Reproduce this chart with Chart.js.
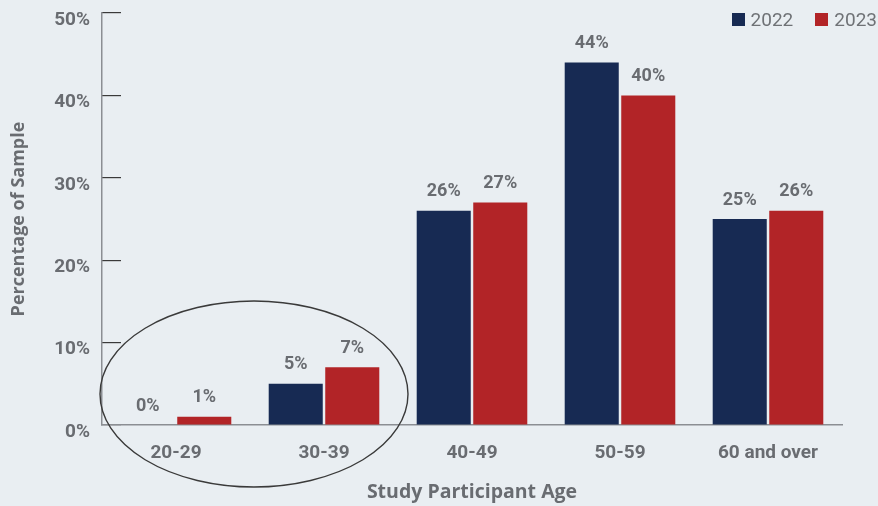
<!DOCTYPE html>
<html>
<head>
<meta charset="utf-8">
<script src="https://cdn.jsdelivr.net/npm/chart.js@4.4.1/dist/chart.umd.min.js"></script>
<style>
  html, body { margin: 0; padding: 0; background: #e9eef2; }
  #wrap { position: relative; width: 878px; height: 506px; }
  #legend {
    position: absolute; top: 8px; right: 1px;
    display: flex; gap: 22px;
    font: 19px Roboto, sans-serif; color: #6f7276;
  }
  #legend span.item { display: flex; align-items: center; }
  #legend span.box { width: 13px; height: 13px; margin-right: 6px; display: inline-block; }
</style>
</head>
<body>
<div id="wrap">
  <canvas id="chart"></canvas>
  <div id="legend"></div>
</div>
<script>
const categories = ['20-29', '30-39', '40-49', '50-59', '60 and over'];
const values2022 = [0, 5, 26, 44, 25];
const values2023 = [1, 7, 27, 40, 26];
const seriesNames = ['2022', '2023'];
const yTicks = [0, 10, 20, 30, 40, 50];

const GRAY = '#696c71';

// value labels above each bar
const barLabels = {
  id: 'barLabels',
  afterDatasetsDraw(chart) {
    const ctx = chart.ctx;
    ctx.save();
    ctx.font = 'bold 18px "Roboto"';
    ctx.fillStyle = GRAY;
    ctx.textAlign = 'center';
    ctx.textBaseline = 'bottom';
    chart.data.datasets.forEach((ds, i) => {
      chart.getDatasetMeta(i).data.forEach((bar, j) => {
        ctx.fillText(ds.data[j] + '%', bar.x, bar.y - 10);
      });
    });
    ctx.restore();
  }
};

// hand-drawn style ellipse round the two youngest groups
const circleNote = {
  id: 'circleNote',
  afterDraw(chart) {
    const x = chart.scales.x, y = chart.scales.y;
    const cx = (x.getPixelForValue(0) + x.getPixelForValue(1)) / 2 + 4;
    const cy = y.getPixelForValue(0) - 31;
    const ctx = chart.ctx;
    ctx.save();
    ctx.strokeStyle = '#3a3a3a';
    ctx.lineWidth = 1.4;
    ctx.beginPath();
    ctx.ellipse(cx, cy, 154, 93, 0, 0, Math.PI * 2);
    ctx.stroke();
    ctx.restore();
  }
};

// html legend in the top right corner, built from the datasets
const htmlLegend = {
  id: 'htmlLegend',
  afterUpdate(chart) {
    const box = document.getElementById('legend');
    box.innerHTML = '';
    chart.data.datasets.forEach(ds => {
      const item = document.createElement('span');
      item.className = 'item';
      const sw = document.createElement('span');
      sw.className = 'box';
      sw.style.background = ds.backgroundColor;
      item.appendChild(sw);
      item.appendChild(document.createTextNode(ds.label));
      box.appendChild(item);
    });
  }
};

new Chart(document.getElementById('chart'), {
  type: 'bar',
  data: {
    labels: categories,
    datasets: [
      { label: seriesNames[0], data: values2022, backgroundColor: '#172a53' },
      { label: seriesNames[1], data: values2023, backgroundColor: '#b22427' }
    ]
  },
  options: {
    responsive: true,
    maintainAspectRatio: false,
    animation: false,
    categoryPercentage: 0.764,
    barPercentage: 0.956,
    layout: { padding: { top: 13, right: 36, left: 0, bottom: 0 } },
    plugins: {
      tooltip: { enabled: false },
      legend: { display: false }
    },
    scales: {
      x: {
        afterFit(scale) { scale.height = 81; },
        border: { display: true, color: '#8b8e93', width: 1.5 },
        grid: { display: false, drawTicks: false },
        ticks: {
          color: GRAY,
          padding: 17,
          font: { family: 'Roboto', weight: 'bold', size: 19 }
        },
        title: {
          display: true,
          text: 'Study Participant Age',
          color: GRAY,
          padding: { top: 0, bottom: 2 },
          font: { family: 'Open Sans', weight: 'bold', size: 19.5 }
        }
      },
      y: {
        min: 0,
        max: 50,
        afterFit(scale) {
          scale.width = 102;
          // the big tick padding should not push the plot down
          scale.paddingTop = 0;
          scale.paddingBottom = 0;
        },
        afterBuildTicks(scale) {
          scale.ticks = yTicks.map(v => ({ value: v }));
        },
        border: { display: true, color: '#8b8e93', width: 1.5 },
        grid: {
          drawOnChartArea: false,
          drawTicks: true,
          tickLength: -19,
          color: '#3a3a3a',
          lineWidth: 1.2
        },
        ticks: {
          color: GRAY,
          padding: 31,
          labelOffset: 7,
          font: { family: 'Roboto', weight: 'bold', size: 19 },
          callback: v => v + '%'
        },
        title: {
          display: true,
          text: 'Percentage of Sample',
          color: GRAY,
          padding: { top: 8, bottom: 0 },
          font: { family: 'Open Sans', weight: 'bold', size: 18 }
        }
      }
    }
  },
  plugins: [barLabels, circleNote, htmlLegend]
});
</script>
</body>
</html>
